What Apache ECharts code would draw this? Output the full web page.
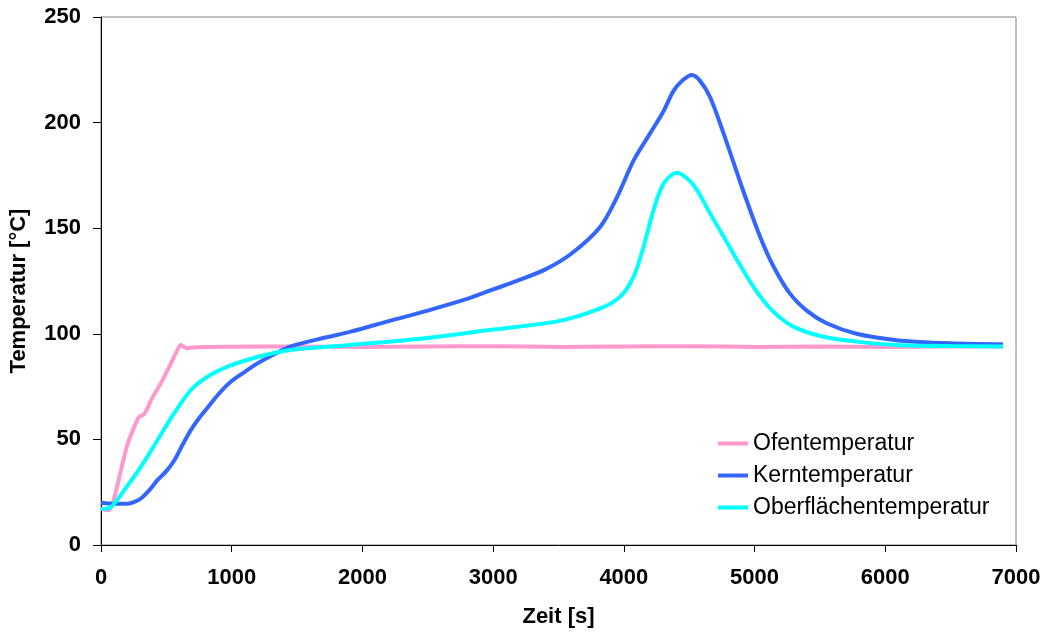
<!DOCTYPE html>
<html>
<head>
<meta charset="utf-8">
<script src="https://cdn.jsdelivr.net/npm/echarts@6/dist/echarts.min.js"></script>
<style>
  html, body { margin: 0; padding: 0; background: #fff; }
  #chart { width: 1045px; height: 635px; }
</style>
</head>
<body>
<div id="chart"></div>
<script>
// Zeit [s], Temperatur [°C]
var ofenData = [
  [0, 17.5], [40, 16.5], [70, 17], [100, 22], [153, 35.5], [204, 48], [255, 56], [290, 60.5],
  [330, 62], [395, 70], [458, 76.6], [535, 86], [590, 93], [611, 94.7], [640, 93.6],
  [662, 93.2], [700, 93.5], [800, 93.8], [1000, 93.9], [1500, 94], [2000, 93.8],
  [2500, 94], [3000, 94.1], [3500, 93.8], [4000, 94], [4500, 94.1], [5000, 93.8],
  [5500, 94], [6000, 93.7], [6500, 94], [6900, 94]
];
var kernData = [
  [0, 20], [100, 19.5], [204, 19.5], [260, 20.5], [305, 22], [370, 26], [433, 30.8],
  [500, 35], [560, 40], [620, 47], [688, 54.5], [750, 60], [815, 65], [900, 71.5],
  [993, 77.3], [1100, 82], [1197, 86], [1300, 89.5], [1451, 94], [1700, 98],
  [1910, 101], [2200, 106], [2500, 111], [2800, 116.5], [3000, 121], [3200, 125.5],
  [3400, 130.5], [3600, 138], [3820, 150.7], [3950, 165], [4074, 182], [4202, 195],
  [4300, 205], [4380, 215], [4450, 220], [4520, 222.5], [4580, 220], [4660, 212],
  [4762, 195], [4889, 172], [4940, 163], [5042, 146], [5144, 132], [5271, 119],
  [5399, 111], [5552, 105], [5781, 100], [6086, 97], [6500, 95.5], [6900, 95]
];
var oberData = [
  [0, 17], [76, 18], [178, 26], [305, 37], [433, 49.7], [560, 62.4], [688, 73.4],
  [815, 79.7], [993, 85], [1197, 89], [1451, 92.3], [1910, 94.7], [2500, 98],
  [3000, 102], [3500, 106], [3820, 112], [3972, 117.6], [4074, 127], [4150, 141],
  [4227, 158.6], [4303, 171], [4405, 176.3], [4532, 170.5], [4660, 157], [4787, 143.5],
  [4889, 132.5], [5016, 120], [5144, 110.5], [5297, 103.4], [5526, 98.6], [5781, 96.3],
  [6086, 94.7], [6500, 94.2], [6900, 94]
];
var seriesNames = ["Ofentemperatur", "Kerntemperatur", "Oberflächentemperatur"];
var seriesColors = ["#ff99cc", "#3366ff", "#00ffff"];

var chart = echarts.init(document.getElementById("chart"));
var font = "Liberation Sans, Arial, sans-serif";

function makeSeries(i, data) {
  return {
    name: seriesNames[i],
    type: "line",
    data: data,
    smooth: 0.3,
    showSymbol: false,
    symbol: "none",
    lineStyle: { color: seriesColors[i], width: 4 },
    itemStyle: { color: seriesColors[i] },
    animation: false
  };
}

var option = {
  backgroundColor: "#fff",
  animation: false,
  grid: {
    left: 100, right: 29, top: 17, bottom: 90,
    show: true, borderColor: "#808080", borderWidth: 1, backgroundColor: "transparent"
  },
  legend: {
    orient: "vertical",
    left: 718,
    top: 432,
    padding: 0,
    itemWidth: 30,
    itemHeight: 4,
    itemGap: 9,
    icon: "rect",
    textStyle: { fontFamily: font, fontSize: 23, color: "#000", lineHeight: 23 },
    data: seriesNames
  },
  xAxis: {
    type: "value",
    min: 0, max: 7000, interval: 1000,
    name: "Zeit [s]",
    nameLocation: "middle",
    nameGap: 61,
    nameTextStyle: { fontFamily: font, fontSize: 22, fontWeight: "bold", color: "#000" },
    axisLine: { show: true, onZero: false, lineStyle: { color: "#000", width: 1 } },
    axisTick: { show: true, inside: false, length: 7, lineStyle: { color: "#000" } },
    axisLabel: {
      fontFamily: font, fontSize: 22, fontWeight: "bold", color: "#000", margin: 22,
      formatter: function (v) { return String(v); }
    },
    splitLine: { show: false }
  },
  yAxis: {
    type: "value",
    min: 0, max: 250, interval: 50,
    name: "Temperatur [°C]",
    nameLocation: "middle",
    nameGap: 71,
    nameRotate: 90,
    nameTextStyle: {
      fontFamily: font, fontSize: 22, fontWeight: "bold", color: "#000",
      padding: [0, 20, 0, 0]
    },
    axisLine: { show: true, lineStyle: { color: "#000", width: 1 } },
    axisTick: { show: true, inside: false, length: 8, lineStyle: { color: "#000" } },
    axisLabel: {
      fontFamily: font, fontSize: 22, fontWeight: "bold", color: "#000", margin: 20,
      formatter: function (v) { return String(v); }
    },
    splitLine: { show: false }
  },
  series: [
    makeSeries(0, ofenData),
    makeSeries(1, kernData),
    makeSeries(2, oberData)
  ]
};
chart.setOption(option);
</script>
</body>
</html>
